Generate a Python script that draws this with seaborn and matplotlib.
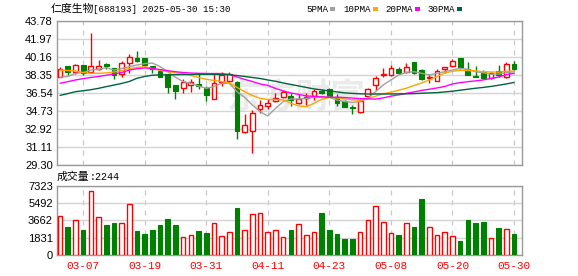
import numpy as np
import pandas as pd
import matplotlib
matplotlib.use("Agg")
import matplotlib.pyplot as plt
import seaborn as sns

# ---------------- data ----------------
dates = ["03-04", "03-05", "03-06", "03-07", "03-10", "03-11", "03-12", "03-13", "03-14",
         "03-17", "03-18", "03-19", "03-20", "03-21", "03-24", "03-25", "03-26", "03-27", "03-28",
         "03-31", "04-01", "04-02", "04-03", "04-07", "04-08", "04-09", "04-10", "04-11",
         "04-14", "04-15", "04-16", "04-17", "04-18", "04-21", "04-22", "04-23", "04-24", "04-25",
         "04-28", "04-29", "04-30", "05-06", "05-07", "05-08", "05-09", "05-12", "05-13", "05-14",
         "05-15", "05-16", "05-19", "05-20", "05-21", "05-22", "05-23", "05-26", "05-27", "05-28",
         "05-29", "05-30"]

opens = [38.12, 39.26, 38.68, 39.36, 38.62, 38.98, 39.46, 39.05, 38.42, 39.59, 40.06, 40.06,
         39.22, 38.80, 38.45, 37.31, 37.01, 37.35, 37.45, 37.01, 35.97, 37.65, 37.75, 37.65,
         32.65, 32.75, 34.96, 35.27, 35.70, 36.14, 36.24, 35.53, 36.00, 36.24, 36.74, 36.98,
         36.17, 35.77, 35.13, 34.60, 36.20, 37.31, 38.40, 38.32, 38.92, 38.65, 39.63, 38.85,
         38.08, 37.78, 38.95, 39.29, 40.06, 38.98, 38.20, 38.68, 38.05, 38.75, 38.12, 39.49]
closes = [38.92, 38.62, 39.36, 38.58, 39.22, 39.22, 39.30, 38.32, 39.52, 40.13, 39.76, 39.36,
          38.98, 38.18, 37.18, 36.77, 37.65, 37.65, 37.25, 36.37, 37.58, 38.35, 38.42, 32.69,
          33.29, 34.50, 35.30, 35.53, 36.04, 36.67, 35.84, 35.97, 36.10, 36.74, 36.50, 36.24,
          35.50, 35.17, 35.00, 35.70, 36.98, 38.02, 38.45, 39.02, 38.60, 39.12, 38.55, 37.98,
          38.12, 38.78, 39.12, 39.72, 39.19, 38.35, 38.15, 38.05, 38.58, 38.35, 39.46, 38.95]
highs = [39.18, 39.30, 39.49, 39.40, 42.60, 39.83, 39.58, 39.08, 39.72, 40.46, 40.76, 40.10,
         39.30, 38.85, 38.50, 37.35, 37.92, 37.95, 38.52, 37.20, 38.45, 38.65, 38.70, 37.70,
         34.40, 34.83, 35.84, 35.90, 36.57, 36.84, 36.50, 36.44, 36.54, 36.90, 36.90, 37.00,
         36.44, 35.80, 35.33, 35.97, 37.05, 38.25, 39.09, 39.36, 39.20, 39.59, 39.65, 39.00,
         38.42, 38.98, 39.15, 39.93, 40.10, 39.63, 39.26, 38.85, 38.70, 39.36, 39.66, 39.72]
lows = [38.10, 38.32, 38.50, 38.40, 38.55, 38.85, 38.95, 37.98, 38.12, 38.58, 39.66, 39.30,
        38.58, 38.10, 36.57, 35.97, 36.57, 36.64, 36.98, 35.73, 35.95, 37.28, 37.50, 31.88,
        32.55, 30.54, 34.50, 34.96, 35.60, 36.00, 35.24, 35.43, 35.37, 35.84, 36.40, 36.10,
        35.24, 35.10, 34.40, 34.55, 36.10, 36.84, 38.18, 38.25, 38.55, 38.60, 38.45, 37.85,
        37.51, 37.75, 38.52, 39.15, 39.00, 38.30, 38.10, 37.95, 37.90, 38.12, 38.05, 38.85]
volumes = [4139, 2972, 3715, 2654, 6793, 4033, 3184, 3397, 3361, 5378, 2547, 2229, 2654, 3184,
           3821, 3184, 1911, 2087, 2547, 2335, 3361, 2017, 2441, 4989, 2654, 4316, 4458, 2441,
           2654, 1911, 2654, 3255, 2087, 2406, 4458, 2654, 2229, 1698, 1698, 2406, 3715, 5165,
           3467, 2300, 2123, 3361, 2972, 5944, 2937, 2087, 2406, 1981, 1486, 3715, 3397, 3503,
           1769, 2866, 2724, 2244]

ma5 = [38.12, 38.20, 38.52, 38.60, 38.85, 38.92, 39.09, 38.85, 39.00, 39.19, 39.36, 39.49,
       39.55, 39.19, 38.68, 38.12, 37.68, 37.52, 37.25, 37.01, 37.18, 37.52, 37.52, 36.67,
       36.10, 35.33, 34.66, 34.23, 35.00, 35.67, 35.94, 35.94, 36.00, 36.10, 36.17, 36.10,
       35.84, 35.67, 35.60, 35.67, 36.00, 36.67, 37.35, 37.85, 38.35, 38.62, 38.68, 38.52,
       38.35, 38.52, 38.68, 38.85, 39.02, 38.92, 38.68, 38.58, 38.42, 38.45, 38.58, 38.68]
ma10 = [38.85, 38.80, 38.75, 38.60, 38.52, 38.52, 38.56, 38.65, 38.80, 39.00, 39.12, 39.18,
        39.00, 38.82, 38.68, 38.58, 38.48, 38.30, 38.10, 37.92, 37.80, 37.70, 37.55, 37.10,
        36.67, 36.28, 36.00, 35.90, 35.88, 35.85, 35.50, 35.25, 35.15, 35.50, 35.90, 36.10,
        36.05, 35.95, 35.85, 35.82, 35.95, 36.22, 36.45, 36.62, 36.82, 37.02, 37.30, 37.55,
        37.85, 38.20, 38.55, 38.72, 38.82, 38.80, 38.76, 38.68, 38.65, 38.64, 38.72, 38.75]
ma20 = [37.52, 37.68, 37.85, 37.98, 38.10, 38.20, 38.32, 38.45, 38.60, 38.85, 38.98, 39.06,
        39.00, 38.90, 38.78, 38.68, 38.60, 38.55, 38.52, 38.50, 38.50, 38.50, 38.40, 38.15,
        37.90, 37.70, 37.45, 37.30, 37.00, 36.75, 36.55, 36.40, 36.25, 36.20, 36.15, 36.10,
        36.12, 36.08, 36.03, 35.98, 35.95, 35.92, 36.05, 36.22, 36.35, 36.50, 36.65, 36.80,
        36.92, 37.05, 37.20, 37.45, 37.58, 37.68, 37.76, 37.85, 38.00, 38.15, 38.38, 38.52]
ma30 = [36.30, 36.48, 36.67, 36.77, 36.87, 37.01, 37.18, 37.34, 37.50, 37.70, 38.02, 38.20,
        38.33, 38.35, 38.37, 38.38, 38.40, 38.40, 38.42, 38.42, 38.42, 38.40, 38.38, 38.30,
        38.20, 38.10, 38.00, 37.85, 37.72, 37.55, 37.40, 37.25, 37.10, 36.95, 36.85, 36.75,
        36.65, 36.55, 36.50, 36.46, 36.44, 36.44, 36.44, 36.44, 36.45, 36.46, 36.48, 36.52,
        36.55, 36.58, 36.65, 36.72, 36.82, 36.92, 37.02, 37.10, 37.20, 37.32, 37.45, 37.60]

price_ticks = [29.30, 31.11, 32.92, 34.73, 36.54, 38.35, 40.16, 41.97, 43.78]
vol_ticks = [0, 1831, 3662, 5492, 7323]
date_ticks = ["03-07", "03-19", "03-31", "04-11", "04-23", "05-08", "05-20", "05-30"]
title_name = "仁度生物"
title_rest = "[688193] 2025-05-30 15:30"
vol_name = "成交量"
vol_rest = ":2244"
ma_names = ["5PMA", "10PMA", "20PMA", "30PMA"]

# ---------------- style ----------------
sns.set_theme(style="white")
plt.rcParams["font.family"] = ["Liberation Sans", "Noto Sans CJK SC", "DejaVu Sans"]

RED = "#FF0000"
GREEN = "#008000"
MA_COLORS = ["#A0A0A0", "#FFA500", "#FF00FF", "#00643C"]
GRID = "#D4D4D4"
FRAME = "#9A9A9A"

W, H = 578, 276
fig = plt.figure(figsize=(W / 100, H / 100), dpi=100)
fig.patch.set_facecolor("white")


def rect(l, t, r, b):
    return [l / W, 1 - b / H, (r - l) / W, (b - t) / H]


def fx(px):
    return px / W


def fy(py):
    return 1 - py / H


axp = fig.add_axes(rect(57, 21, 522, 165))
axv = fig.add_axes(rect(57, 186, 522, 255))

n = len(dates)
x = np.arange(n)
df = pd.DataFrame({"x": x, "date": dates, "open": opens, "close": closes,
                   "high": highs, "low": lows, "vol": volumes,
                   "MA5": ma5, "MA10": ma10, "MA20": ma20, "MA30": ma30})
up = df["close"] >= df["open"]
tick_pos = [dates.index(d) for d in date_ticks]
XLIM = (-0.4, n + 0.04)

for ax in (axp, axv):
    ax.set_facecolor("white")
    ax.set_xlim(*XLIM)
    for s in ax.spines.values():
        s.set_color(FRAME)
        s.set_linewidth(1.0)
    for p in tick_pos:
        ax.axvline(p, color="#C8C8C8", lw=0.9, ls=(0, (4, 4)), zorder=0.5)
    ax.tick_params(axis="both", length=0, pad=3, labelsize=8, colors="#000000")

# ---------------- price panel ----------------
axp.set_ylim(price_ticks[0], price_ticks[-1])
axp.set_yticks(price_ticks)
axp.set_yticklabels([f"{t:.2f}" for t in price_ticks])
axp.yaxis.grid(True, color=GRID, lw=1.0, zorder=0.4)
axp.set_xticks([])

BW = 0.62
for i, r in df.iterrows():
    col = RED if up[i] else GREEN
    axp.vlines(r["x"], r["low"], r["high"], color=col, lw=1.0, zorder=2)
    lo = min(r["open"], r["close"])
    h = max(abs(r["close"] - r["open"]), 0.04)
    if up[i]:
        axp.bar(r["x"], h, bottom=lo, width=BW, facecolor="white", edgecolor=col,
                linewidth=1.0, zorder=3)
    else:
        axp.bar(r["x"], h, bottom=lo, width=BW, facecolor=col, edgecolor=col,
                linewidth=0.8, zorder=3)

for name, c in zip(["MA5", "MA10", "MA20", "MA30"], MA_COLORS):
    sns.lineplot(data=df, x="x", y=name, ax=axp, color=c, lw=1.0, zorder=4, legend=False)
axp.set_xlim(*XLIM)
axp.set_xlabel("")
axp.set_ylabel("")

# watermark
axp.text(0.515, 0.47, "东方财富", transform=axp.transAxes, ha="center", va="center",
         fontsize=25, color="#EAEAEA", family=["Noto Sans CJK SC"], fontweight="bold",
         zorder=0.3)

# ---------------- volume panel ----------------
axv.set_ylim(0, vol_ticks[-1])
axv.set_yticks(vol_ticks)
axv.set_yticklabels([str(t) for t in vol_ticks])
axv.yaxis.grid(True, color=GRID, lw=1.0, zorder=0.4)
VW = 0.6
for i, r in df.iterrows():
    if up[i]:
        axv.bar(r["x"], r["vol"], width=VW, facecolor="white", edgecolor=RED,
                linewidth=1.0, zorder=3)
    else:
        axv.bar(r["x"], r["vol"], width=VW, facecolor=GREEN, edgecolor=GREEN,
                linewidth=0.8, zorder=3)
axv.set_xticks(tick_pos)
axv.set_xticklabels(date_ticks, color=RED, family=["Liberation Mono"], fontsize=8)
axv.tick_params(axis="x", pad=4)
axv.set_xlabel("")
axv.set_ylabel("")

# ---------------- texts ----------------
fig.text(fx(51), fy(9), title_name, ha="left", va="center", fontsize=7.8,
         family=["Noto Sans CJK SC"], color="#000000")
fig.text(fx(93), fy(9), title_rest, ha="left", va="center", fontsize=6.6,
         family=["Liberation Mono"], color="#000000")
fig.text(fx(57), fy(177), vol_name, ha="left", va="center", fontsize=7.8,
         family=["Noto Sans CJK SC"], color="#000000")
fig.text(fx(90), fy(177), vol_rest, ha="left", va="center", fontsize=7.2,
         family=["Liberation Mono"], color="#000000")

leg_x = [306, 343, 385, 427]
for lx, name, c in zip(leg_x, ma_names, MA_COLORS):
    fig.text(fx(lx), fy(9), name, ha="left", va="center", fontsize=6.6,
             family=["Liberation Mono"], color="#000000")
    sq_x = lx + 5.5 * len(name) + 2
    fig.patches.append(plt.Rectangle((fx(sq_x), fy(10.5)), 5 / W, 3.5 / H,
                                     transform=fig.transFigure, facecolor=c,
                                     edgecolor="none", figure=fig))

fig.savefig("out.png", dpi=100, facecolor="white")
